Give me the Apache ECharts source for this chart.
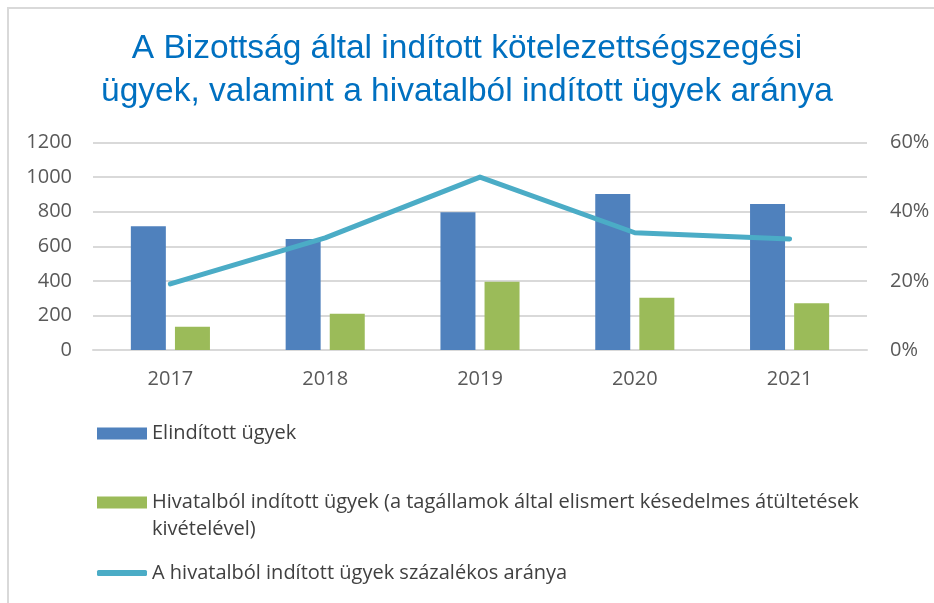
<!DOCTYPE html>
<html>
<head>
<meta charset="utf-8">
<script src="https://cdn.jsdelivr.net/npm/echarts@6/dist/echarts.min.js"></script>
<style>
	html, body { margin: 0; padding: 0; background: #fff; }
	#container { width: 934px; height: 603px; }
</style>
</head>
<body>
<div id="container"></div>
<script>
// adatok
var years = ['2017', '2018', '2019', '2020', '2021'];
var elinditott = [715, 642, 797, 902, 845];
var hivatalbol = [135, 210, 395, 302, 270];
var arany = [19.1, 32.4, 50.0, 33.9, 32.1]; // %
var leftTicks = [0, 1200, 200];
var rightTicks = [0, 60, 20];

var names = [
	'Elindított ügyek',
	'Hivatalból indított ügyek (a tagállamok által elismert késedelmes átültetések kivételével)',
	'A hivatalból indított ügyek százalékos aránya'
];

var dom = document.getElementById('container');
var myChart = echarts.init(dom);

var legendText = {
	color: '#404040',
	fontSize: 20,
	fontFamily: 'Open Sans',
	lineHeight: 27
};

var option = {
	animation: false,
	backgroundColor: '#fff',
	graphic: [{
		type: 'rect',
		shape: { x: 8, y: 8, width: 1000, height: 1000 },
		style: { fill: 'none', stroke: '#d9d9d9', lineWidth: 2 }
	}],
	title: {
		text: 'A Bizottság által indított kötelezettségszegési\nügyek, valamint a hivatalból indított ügyek aránya',
		left: 'center',
		top: 22,
		textStyle: {
			color: '#0070c0',
			fontSize: 33.5,
			fontWeight: 'normal',
			fontFamily: 'Liberation Sans',
			lineHeight: 43
		}
	},
	legend: [{
		orient: 'vertical',
		left: 97,
		top: 420,
		padding: 0,
		itemWidth: 50,
		itemHeight: 12,
		icon: 'rect',
		data: [names[0]],
		textStyle: legendText
	}, {
		orient: 'vertical',
		left: 97,
		top: 462,
		padding: 0,
		itemWidth: 50,
		itemHeight: 12,
		icon: 'rect',
		data: [names[1]],
		// hosszú felirat két sorban, az ikon az első sorral egy vonalban
		formatter: function(name) {
			return ' \n' + name.replace(' átültetések ', ' átültetések\n');
		},
		textStyle: legendText
	}, {
		orient: 'vertical',
		left: 97,
		top: 559.5,
		padding: 0,
		itemWidth: 50,
		itemHeight: 6,
		data: [{ name: names[2], icon: 'roundRect' }],
		textStyle: legendText
	}],
	grid: {
		left: 93,
		right: 67,
		top: 142.5,
		bottom: 253
	},
	xAxis: {
		type: 'category',
		data: years,
		axisLine: { lineStyle: { color: '#d9d9d9', width: 2 } },
		axisTick: { show: false },
		axisLabel: {
			color: '#595959',
			fontSize: 20,
			fontFamily: 'Open Sans',
			margin: 19
		}
	},
	yAxis: [{
		type: 'value',
		min: leftTicks[0],
		max: leftTicks[1],
		interval: leftTicks[2],
		axisLine: { show: false },
		axisTick: { show: false },
		splitLine: { lineStyle: { color: '#d9d9d9', width: 2 } },
		axisLabel: {
			color: '#595959',
			fontSize: 20,
			fontFamily: 'Open Sans',
			margin: 21,
			formatter: function(v) { return String(v); }
		}
	}, {
		type: 'value',
		min: rightTicks[0],
		max: rightTicks[1],
		interval: rightTicks[2],
		axisLine: { show: false },
		axisTick: { show: false },
		splitLine: { show: false },
		axisLabel: {
			color: '#595959',
			fontSize: 20,
			fontFamily: 'Open Sans',
			margin: 23,
			formatter: '{value}%'
		}
	}],
	series: [{
		name: names[0],
		type: 'bar',
		data: elinditott,
		barWidth: 35,
		barGap: '26%',
		itemStyle: { color: '#4f81bd' }
	}, {
		name: names[1],
		type: 'bar',
		data: hivatalbol,
		barWidth: 35,
		itemStyle: { color: '#9bbb59' }
	}, {
		name: names[2],
		type: 'line',
		yAxisIndex: 1,
		data: arany,
		symbol: 'none',
		lineStyle: { color: '#4bacc6', width: 5, cap: 'round', join: 'round' },
		itemStyle: { color: '#4bacc6' }
	}]
};
myChart.setOption(option, true);
</script>
</body>
</html>
